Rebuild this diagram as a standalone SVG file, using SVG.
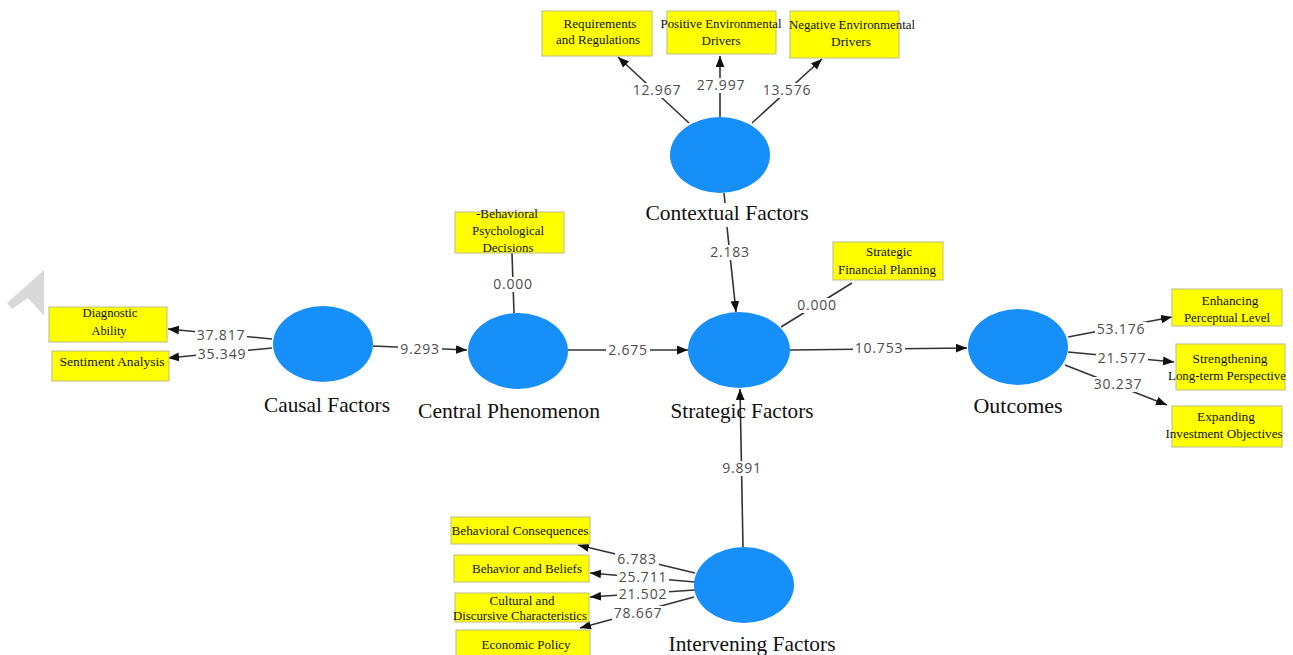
<svg xmlns="http://www.w3.org/2000/svg" width="1293" height="655" viewBox="0 0 1293 655">
<defs>
<style>
.bx{fill:#ffff00;stroke:#bcbc88;stroke-width:1}
.bt{font-family:"Liberation Serif","Times New Roman",serif;font-size:13px;fill:#111;text-anchor:middle}
.el{fill:#1690f8}
.nt{font-family:"Liberation Serif","Times New Roman",serif;font-size:22px;fill:#111;text-anchor:middle}
.ln{stroke:#333;stroke-width:1.6;fill:none}
.ar{marker-end:url(#ah)}
.lb{font-family:"Open Sans","DejaVu Sans",sans-serif;font-size:14px;fill:#4d4d4d;text-anchor:middle;letter-spacing:0.8px}
.bg{fill:#fff}
</style>
<marker id="ah" viewBox="0 0 10 8" refX="10" refY="4" markerWidth="11" markerHeight="9" markerUnits="userSpaceOnUse" orient="auto">
<path d="M0,0 L10,4 L0,8 z" fill="#111"/>
</marker>
</defs>
<rect width="1293" height="655" fill="#fff"/>
<polygon points="44,270 7,303 12,309 28,298 44,316" fill="#d9d9d9"/>

<g id="connectors">
<line class="ln ar" x1="689" y1="123" x2="618" y2="57"/>
<line class="ln ar" x1="720" y1="117" x2="720" y2="56"/>
<line class="ln ar" x1="752" y1="123" x2="822" y2="59"/>
<line class="ln" x1="724" y1="193" x2="725" y2="203"/>
<line class="ln ar" x1="727" y1="227" x2="736" y2="312"/>
<line class="ln" x1="512" y1="253" x2="514" y2="313"/>
<line class="ln ar" x1="272" y1="339" x2="168" y2="329"/>
<line class="ln ar" x1="272" y1="348" x2="168" y2="358"/>
<line class="ln ar" x1="373" y1="346" x2="467" y2="350"/>
<line class="ln ar" x1="568" y1="350" x2="688" y2="350"/>
<line class="ln" x1="781" y1="327" x2="852" y2="283"/>
<line class="ln ar" x1="790" y1="350" x2="967" y2="348"/>
<line class="ln ar" x1="1068" y1="337" x2="1172" y2="317"/>
<line class="ln ar" x1="1068" y1="352" x2="1174" y2="362"/>
<line class="ln ar" x1="1065" y1="365" x2="1167" y2="405"/>
<line class="ln ar" x1="743" y1="547" x2="740" y2="389"/>
<line class="ln ar" x1="695" y1="573" x2="578" y2="545"/>
<line class="ln ar" x1="695" y1="582" x2="590" y2="573"/>
<line class="ln ar" x1="695" y1="590" x2="590" y2="597"/>
<line class="ln ar" x1="694" y1="597" x2="580" y2="628"/>
<rect class="bg" x="631" y="83" width="52" height="15"/>
<rect class="bg" x="695" y="78" width="52" height="15"/>
<rect class="bg" x="761" y="83" width="52" height="15"/>
<rect class="bg" x="708" y="245" width="44" height="15"/>
<rect class="bg" x="491" y="277" width="44" height="15"/>
<rect class="bg" x="195" y="328" width="52" height="15"/>
<rect class="bg" x="196" y="347" width="52" height="15"/>
<rect class="bg" x="398" y="342" width="44" height="15"/>
<rect class="bg" x="606" y="343" width="44" height="15"/>
<rect class="bg" x="795" y="298" width="44" height="15"/>
<rect class="bg" x="853" y="341" width="52" height="15"/>
<rect class="bg" x="1095" y="322" width="52" height="15"/>
<rect class="bg" x="1096" y="351" width="52" height="15"/>
<rect class="bg" x="1092" y="377" width="52" height="15"/>
<rect class="bg" x="720" y="461" width="44" height="15"/>
<rect class="bg" x="615" y="552" width="44" height="14"/>
<rect class="bg" x="617" y="570" width="52" height="14"/>
<rect class="bg" x="617" y="587" width="52" height="14"/>
<rect class="bg" x="612" y="606" width="52" height="14"/>
<text class="lb" x="657" y="95">12.967</text>
<text class="lb" x="721" y="90">27.997</text>
<text class="lb" x="787" y="95">13.576</text>
<text class="lb" x="730" y="257">2.183</text>
<text class="lb" x="513" y="289">0.000</text>
<text class="lb" x="221" y="340">37.817</text>
<text class="lb" x="222" y="359">35.349</text>
<text class="lb" x="420" y="354">9.293</text>
<text class="lb" x="628" y="355">2.675</text>
<text class="lb" x="817" y="310">0.000</text>
<text class="lb" x="879" y="353">10.753</text>
<text class="lb" x="1121" y="334">53.176</text>
<text class="lb" x="1122" y="363">21.577</text>
<text class="lb" x="1118" y="389">30.237</text>
<text class="lb" x="742" y="473">9.891</text>
<text class="lb" x="637" y="564">6.783</text>
<text class="lb" x="643" y="582">25.711</text>
<text class="lb" x="643" y="599">21.502</text>
<text class="lb" x="638" y="618">78.667</text>
</g>

<g id="contextual-factors">
<ellipse class="el" cx="720" cy="155" rx="50" ry="38"/>
<text class="nt" x="727" y="220" textLength="163" lengthAdjust="spacingAndGlyphs">Contextual Factors</text>
</g>
<g id="causal-factors">
<ellipse class="el" cx="323" cy="344" rx="50" ry="38"/>
<text class="nt" x="327" y="412" textLength="126" lengthAdjust="spacingAndGlyphs">Causal Factors</text>
</g>
<g id="central-phenomenon">
<ellipse class="el" cx="518" cy="351" rx="50" ry="38"/>
<text class="nt" x="509" y="418" textLength="182" lengthAdjust="spacingAndGlyphs">Central Phenomenon</text>
</g>
<g id="strategic-factors">
<ellipse class="el" cx="739" cy="350" rx="51" ry="38"/>
<text class="nt" x="742" y="418" textLength="143" lengthAdjust="spacingAndGlyphs">Strategic Factors</text>
</g>
<g id="outcomes">
<ellipse class="el" cx="1018" cy="347" rx="50" ry="38"/>
<text class="nt" x="1018" y="413" textLength="89" lengthAdjust="spacingAndGlyphs">Outcomes</text>
</g>
<g id="intervening-factors">
<ellipse class="el" cx="744" cy="585" rx="50" ry="38"/>
<text class="nt" x="752" y="651" textLength="167" lengthAdjust="spacingAndGlyphs">Intervening Factors</text>
</g>

<g id="requirements-regulations">
<rect class="bx" x="542" y="11" width="110" height="45"/>
<text class="bt" x="600" y="28" textLength="73" lengthAdjust="spacingAndGlyphs">Requirements</text>
<text class="bt" x="598" y="44" textLength="84" lengthAdjust="spacingAndGlyphs">and Regulations</text>
</g>
<g id="positive-drivers">
<rect class="bx" x="667" y="11" width="109" height="43"/>
<text class="bt" x="721" y="28" textLength="121" lengthAdjust="spacingAndGlyphs">Positive Environmental</text>
<text class="bt" x="721" y="45" textLength="39" lengthAdjust="spacingAndGlyphs">Drivers</text>
</g>
<g id="negative-drivers">
<rect class="bx" x="790" y="11" width="109" height="47"/>
<text class="bt" x="852" y="29" textLength="126" lengthAdjust="spacingAndGlyphs">Negative Environmental</text>
<text class="bt" x="851" y="46" textLength="40" lengthAdjust="spacingAndGlyphs">Drivers</text>
</g>
<g id="diagnostic-ability">
<rect class="bx" x="49" y="307" width="118" height="35"/>
<text class="bt" x="110" y="317" textLength="55" lengthAdjust="spacingAndGlyphs">Diagnostic</text>
<text class="bt" x="109" y="335" textLength="35" lengthAdjust="spacingAndGlyphs">Ability</text>
</g>
<g id="sentiment-analysis">
<rect class="bx" x="52" y="351" width="117" height="30"/>
<text class="bt" x="112" y="366" textLength="105" lengthAdjust="spacingAndGlyphs">Sentiment Analysis</text>
</g>
<g id="behavioral-psychological-decisions">
<rect class="bx" x="455" y="212" width="109" height="41"/>
<text class="bt" x="507" y="218" textLength="62" lengthAdjust="spacingAndGlyphs">-Behavioral</text>
<text class="bt" x="508" y="235" textLength="72" lengthAdjust="spacingAndGlyphs">Psychological</text>
<text class="bt" x="508" y="252" textLength="51" lengthAdjust="spacingAndGlyphs">Decisions</text>
</g>
<g id="strategic-financial-planning">
<rect class="bx" x="833" y="242" width="110" height="38"/>
<text class="bt" x="889" y="256" textLength="46" lengthAdjust="spacingAndGlyphs">Strategic</text>
<text class="bt" x="887" y="274" textLength="98" lengthAdjust="spacingAndGlyphs">Financial Planning</text>
</g>
<g id="enhancing-perceptual-level">
<rect class="bx" x="1172" y="289" width="110" height="37"/>
<text class="bt" x="1230" y="305" textLength="57" lengthAdjust="spacingAndGlyphs">Enhancing</text>
<text class="bt" x="1227" y="322" textLength="86" lengthAdjust="spacingAndGlyphs">Perceptual Level</text>
</g>
<g id="strengthening-long-term-perspective">
<rect class="bx" x="1176" y="344" width="109" height="46"/>
<text class="bt" x="1230" y="363" textLength="75" lengthAdjust="spacingAndGlyphs">Strengthening</text>
<text class="bt" x="1227" y="380" textLength="118" lengthAdjust="spacingAndGlyphs">Long-term Perspective</text>
</g>
<g id="expanding-investment-objectives">
<rect class="bx" x="1172" y="406" width="110" height="41"/>
<text class="bt" x="1226" y="421" textLength="58" lengthAdjust="spacingAndGlyphs">Expanding</text>
<text class="bt" x="1224" y="438" textLength="117" lengthAdjust="spacingAndGlyphs">Investment Objectives</text>
</g>
<g id="behavioral-consequences">
<rect class="bx" x="451" y="517" width="139" height="27"/>
<text class="bt" x="520" y="535" textLength="137" lengthAdjust="spacingAndGlyphs">Behavioral Consequences</text>
</g>
<g id="behavior-beliefs">
<rect class="bx" x="454" y="555" width="135" height="27"/>
<text class="bt" x="527" y="573" textLength="110" lengthAdjust="spacingAndGlyphs">Behavior and Beliefs</text>
</g>
<g id="cultural-discursive">
<rect class="bx" x="455" y="593" width="134" height="29"/>
<text class="bt" x="522" y="605" textLength="65" lengthAdjust="spacingAndGlyphs">Cultural and</text>
<text class="bt" x="520" y="620" textLength="134" lengthAdjust="spacingAndGlyphs">Discursive Characteristics</text>
</g>
<g id="economic-policy">
<rect class="bx" x="456" y="630" width="134" height="30"/>
<text class="bt" x="526" y="649" textLength="89" lengthAdjust="spacingAndGlyphs">Economic Policy</text>
</g>
</svg>
